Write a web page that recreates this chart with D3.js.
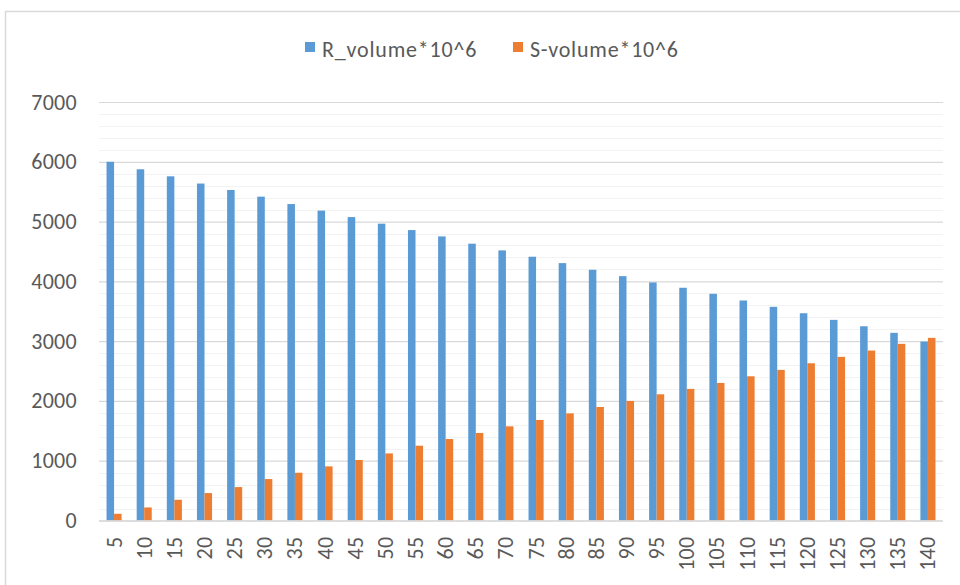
<!DOCTYPE html>
<html>
<head>
<meta charset="utf-8">
<script src="https://cdn.jsdelivr.net/npm/d3@7"></script>
<style>
  html, body { margin: 0; padding: 0; background: #fff; }
  svg { display: block; }
  text { font-family: Carlito, Calibri, Lato, sans-serif; fill: #595959; }
</style>
</head>
<body>
<svg id="chart" width="960" height="585"></svg>
<script>
// Categories along the x axis
const categories = [5, 10, 15, 20, 25, 30, 35, 40, 45, 50, 55, 60, 65, 70,
  75, 80, 85, 90, 95, 100, 105, 110, 115, 120, 125, 130, 135, 140];

// Series values
const rVolume = [6000, 5875, 5757, 5636, 5528, 5417, 5293, 5183, 5075, 4965,
  4858, 4752, 4630, 4518, 4412, 4305, 4194, 4087, 3982, 3893,
  3792, 3680, 3574, 3467, 3356, 3249, 3139, 2993];
const sVolume = [112, 218, 347, 459, 559, 693, 799, 905, 1012, 1122,
  1251, 1363, 1464, 1575, 1682, 1792, 1899, 2000, 2111, 2201,
  2301, 2412, 2519, 2630, 2737, 2843, 2955, 3055];

const seriesNames = ["R_volume*10^6", "S-volume*10^6"];
const seriesColors = ["#5b9bd5", "#ed7d31"];
const yTicks = [0, 1000, 2000, 3000, 4000, 5000, 6000, 7000];
const yMinorTicks = d3.range(0, 7001, 200);

const svg = d3.select("#chart");
const plot = { left: 99, right: 943, top: 102, bottom: 520.5 };
const fontFamily = "Carlito, Calibri, Lato, sans-serif";
const fontSize = 22;

// Outer chart frame
svg.append("rect")
  .attr("x", 5.5).attr("y", 11.5)
  .attr("width", 980).attr("height", 600)
  .attr("fill", "none").attr("stroke", "#d9d9d9").attr("stroke-width", 1.5);

const x = d3.scaleBand()
  .domain(categories)
  .range([plot.left, plot.right])
  .paddingInner(0.5).paddingOuter(0.25);

const xInner = d3.scaleBand()
  .domain([0, 1])
  .range([0, x.bandwidth()]);

const y = d3.scaleLinear()
  .domain([0, 7000])
  .range([plot.bottom, plot.top]);

// Minor gridlines
svg.append("g")
  .selectAll("line")
  .data(yMinorTicks.filter(v => v % 1000 !== 0))
  .join("line")
  .attr("x1", plot.left).attr("x2", plot.right)
  .attr("y1", d => Math.round(y(d)) + 0.5).attr("y2", d => Math.round(y(d)) + 0.5)
  .attr("stroke", "#f2f2f2").attr("stroke-width", 1);

// Major gridlines and y labels via axis
const yAxis = d3.axisLeft(y)
  .tickValues(yTicks)
  .tickSize(-(plot.right - plot.left))
  .tickPadding(22)
  .tickFormat(d3.format("d"));

const gy = svg.append("g")
  .attr("transform", `translate(${plot.left},0)`)
  .call(yAxis);
gy.select(".domain").remove();
gy.selectAll(".tick line")
  .attr("stroke", "#d9d9d9").attr("stroke-width", 1.2);
gy.selectAll(".tick text")
  .attr("font-size", fontSize)
  .attr("font-family", fontFamily)
  .attr("letter-spacing", 0.3)
  .style("fill", "#595959");

// Bars
const rows = categories.map((c, i) => ({ c, vals: [rVolume[i], sVolume[i]] }));
const groups = svg.append("g")
  .selectAll("g")
  .data(rows)
  .join("g")
  .attr("transform", d => `translate(${x(d.c)},0)`);

groups.selectAll("rect")
  .data(d => d.vals.map((v, k) => ({ v, k })))
  .join("rect")
  .attr("x", d => xInner(d.k))
  .attr("width", xInner.bandwidth())
  .attr("y", d => y(d.v))
  .attr("height", d => y(0) - y(d.v))
  .attr("fill", d => seriesColors[d.k]);

// X axis
const xAxis = d3.axisBottom(x).tickSize(0).tickPadding(0);
const gx = svg.append("g")
  .attr("transform", `translate(0,${plot.bottom})`)
  .call(xAxis);
gx.select(".domain")
  .attr("stroke", "#d9d9d9").attr("stroke-width", 1.5)
  .attr("d", `M${plot.left},0.5H${plot.right}`);
gx.selectAll(".tick text")
  .attr("font-size", fontSize)
  .attr("font-family", fontFamily)
  .attr("letter-spacing", 0.3)
  .style("fill", "#595959")
  .attr("text-anchor", "end")
  .attr("dy", "0.34em")
  .attr("x", 0).attr("y", 0)
  .attr("transform", "translate(0,16) rotate(-90)");

// Legend
const legend = svg.append("g");
const legendItems = [
  { name: seriesNames[0], color: seriesColors[0], x: 305 },
  { name: seriesNames[1], color: seriesColors[1], x: 513 }
];
legendItems.forEach(it => {
  legend.append("rect")
    .attr("x", it.x).attr("y", 42).attr("width", 10).attr("height", 10)
    .attr("fill", it.color);
  legend.append("text")
    .attr("x", it.x + 17).attr("y", 56.5)
    .attr("font-size", fontSize)
    .attr("font-family", fontFamily)
    .attr("letter-spacing", 0.8)
    .text(it.name);
});
</script>
</body>
</html>
